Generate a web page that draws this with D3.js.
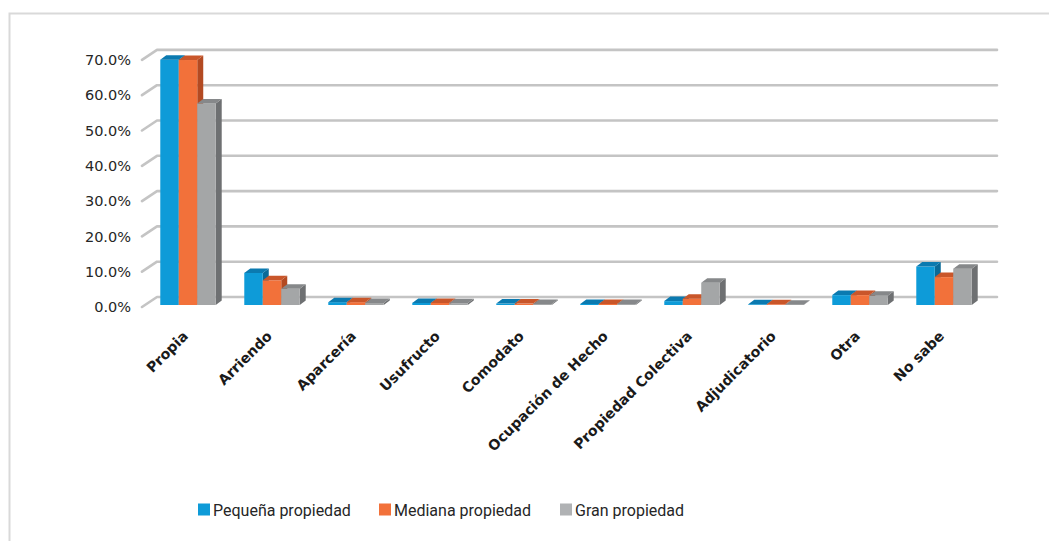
<!DOCTYPE html>
<html>
<head>
<meta charset="utf-8">
<script src="https://cdn.jsdelivr.net/npm/d3@7"></script>
<style>
  html, body { margin: 0; padding: 0; background: #fff; }
  svg { display: block; }
</style>
</head>
<body>
<svg id="chart" width="1049" height="541"></svg>
<script>
// Tenencia de la tierra por tamaño de propiedad (porcentajes)
const categories = ["Propia", "Arriendo", "Aparcería", "Usufructo", "Comodato",
  "Ocupación de Hecho", "Propiedad Colectiva", "Adjudicatorio", "Otra", "No sabe"];
const seriesNames = ["Pequeña propiedad", "Mediana propiedad", "Gran propiedad"];
const pequena = [69.5, 9.1, 0.8, 0.6, 0.4, 0.3, 1.1, 0.2, 2.8, 10.9];
const mediana = [69.4, 7.0, 0.8, 0.6, 0.4, 0.3, 1.8, 0.2, 2.8, 7.9];
const gran    = [57.1, 4.6, 0.6, 0.5, 0.3, 0.3, 6.3, 0.1, 2.6, 10.3];
const yTicks = [0, 10, 20, 30, 40, 50, 60, 70];

const seriesValues = [pequena, mediana, gran];
const palette = [
  { front: "#0e9bd8", top: "#0b7ab0", side: "#0a6a98", key: "#0e9bd8" },
  { front: "#f2713a", top: "#c9562a", side: "#b34a22", key: "#f2713a" },
  { front: "#a4a6a7", top: "#86888a", side: "#6e7072", key: "#b0b2b4" }
];

const svg = d3.select("#chart");

// outer frame
svg.append("rect")
  .attr("x", 9.5).attr("y", 13.5)
  .attr("width", 1100).attr("height", 600)
  .attr("fill", "none").attr("stroke", "#d9d9d9").attr("stroke-width", 2);

// scales: columns stand on the front baseline; the back wall is offset in depth
const yFront = d3.scaleLinear().domain([0, 70]).range([305, 57.9]);
const wallDx = 15, wallDy = -10;     // side wall depth
const frontX = 142;                  // front edge of the side wall
const backRight = 997;
const barDx = 6, barDy = -4.5;       // depth of each column

const x0 = d3.scaleBand().domain(categories).range([146, 986])
  .paddingInner(0.34).paddingOuter(0.17);
const x1 = d3.scaleBand().domain(seriesNames).range([0, x0.bandwidth()]);

// gridlines: side wall diagonal + back wall horizontal
const grid = svg.append("g").attr("fill", "none")
  .attr("stroke", "#c4c4c4").attr("stroke-width", 2.6)
  .attr("stroke-linejoin", "round").attr("stroke-linecap", "round");
yTicks.forEach(t => {
  const yf = yFront(t) + 2;
  grid.append("path")
    .attr("d", `M${frontX},${yf} L${frontX + wallDx},${yf + wallDy} L${backRight},${yf + wallDy}`);
});

// tick labels
const yLabel = d3.scaleLinear().domain([0, 70]).range([yFront(0) + 2, yFront(70) + 2]);
const yAxis = svg.append("g")
  .attr("transform", "translate(136,0)")
  .call(d3.axisLeft(yLabel).tickValues(yTicks).tickSize(0).tickPadding(5)
    .tickFormat(d => d3.format(".1%")(d / 100)));
yAxis.select(".domain").remove();
yAxis.selectAll("text")
  .attr("font-family", "DejaVu Sans, sans-serif")
  .attr("font-size", 14.5)
  .attr("fill", "#262626");

// columns
const bars = svg.append("g");
categories.forEach((c, ci) => {
  seriesNames.forEach((s, si) => {
    const v = seriesValues[si][ci];
    const x = x0(c) + x1(s);
    const w = x1.bandwidth();
    const yb = yFront(0);
    const yt = yFront(v);
    const col = palette[si];
    const g = bars.append("g");
    // side face
    g.append("path")
      .attr("d", `M${x + w},${yt} L${x + w + barDx},${yt + barDy} L${x + w + barDx},${yb + barDy} L${x + w},${yb} Z`)
      .attr("fill", col.side);
    // front face
    g.append("rect")
      .attr("x", x).attr("y", yt)
      .attr("width", w).attr("height", yb - yt)
      .attr("fill", col.front);
    // top face
    g.append("path")
      .attr("d", `M${x},${yt} L${x + barDx},${yt + barDy} L${x + w + barDx},${yt + barDy} L${x + w},${yt} Z`)
      .attr("fill", col.top);
  });
});

// category labels
svg.append("g").selectAll("text")
  .data(categories)
  .join("text")
  .attr("transform", d => `translate(${x0(d) + x0.bandwidth() / 2 + 1},337) rotate(-45)`)
  .attr("text-anchor", "end")
  .attr("font-family", "DejaVu Sans, sans-serif")
  .attr("font-weight", "bold")
  .attr("font-size", 14.2)
  .attr("fill", "#1a1a1a")
  .text(d => d);

// legend
const legendX = [198, 379, 560];
const legend = svg.append("g");
seriesNames.forEach((s, i) => {
  legend.append("rect")
    .attr("x", legendX[i]).attr("y", 503.5)
    .attr("width", 12).attr("height", 12)
    .attr("fill", palette[i].key);
  legend.append("text")
    .attr("x", legendX[i] + 15).attr("y", 516)
    .attr("font-family", "Roboto, sans-serif")
    .attr("font-size", 16)
    .attr("fill", "#262626")
    .text(s);
});
</script>
</body>
</html>
